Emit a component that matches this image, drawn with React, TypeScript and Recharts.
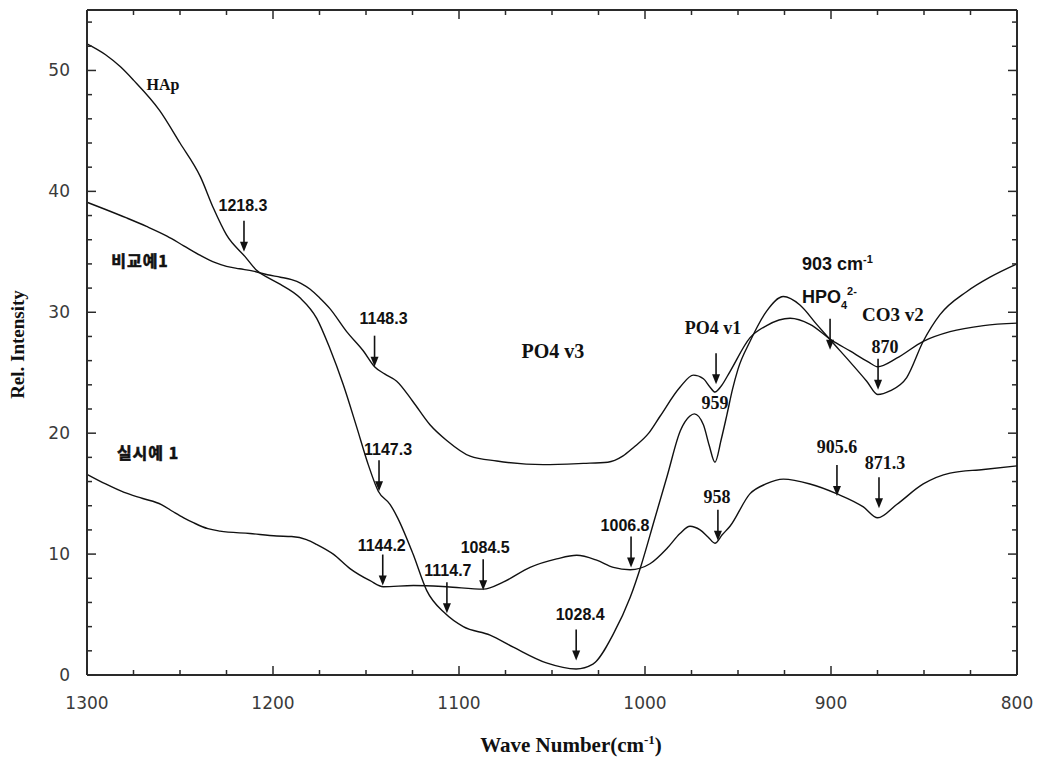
import { LineChart, Line, XAxis, YAxis, ReferenceDot, ReferenceLine } from 'recharts'

// [wavenumber cm-1, rel. intensity]
const hap: [number, number][] = [
  [1300, 52.2], [1290, 51.3], [1282, 50.3], [1275, 49.2], [1261, 46.7], [1250, 44.0], [1239, 41.2],
  [1232, 38.6], [1225, 36.4], [1215, 34.6], [1209, 33.5], [1202, 32.8], [1196, 32.3], [1185.5, 31.2], [1176.5, 29.5],
  [1169.4, 27.0], [1162.2, 24.0], [1155, 20.5], [1148.8, 17.4], [1143.4, 15.2], [1137, 14.1], [1133, 13.0],
  [1124.7, 10.0], [1117.4, 7.0], [1107.5, 5.1], [1097.7, 4.0], [1083.3, 3.3], [1070.8, 2.3], [1053, 1.0],
  [1037, 0.5], [1028, 0.9], [1017, 3.4], [1008, 6.4], [1002, 9.1], [995, 12.8], [988, 16.5], [981, 20.2],
  [976, 21.4], [973.5, 21.6], [968.6, 20.7], [965.5, 19.0], [962.4, 17.6], [959, 19.5], [956, 21.5],
  [953, 23.6], [950, 25.3], [943.5, 27.6], [934.6, 30.1], [925.6, 31.3], [916.7, 30.6], [907.7, 29.0],
  [899.7, 27.6], [889.8, 25.9], [880.8, 24.3], [874.9, 23.2], [868.3, 23.5], [859.3, 24.6], [850.4, 27.6],
  [841.4, 29.8], [827.1, 31.7], [814.5, 32.9], [800, 34.0],
]

const comparative: [number, number][] = [
  [1300, 39.1], [1290, 38.5], [1278.7, 37.8], [1268, 37.1], [1257, 36.3], [1248, 35.5], [1239, 34.7],
  [1231, 34.1], [1225, 33.8], [1218, 33.6], [1210.6, 33.4], [1203, 33.1], [1196, 32.9], [1190, 32.7], [1185, 32.4],
  [1180, 31.9], [1175, 31.2], [1169.4, 30.3], [1160.4, 28.4], [1151.4, 26.8], [1145.4, 25.5], [1140, 24.9],
  [1133.5, 24.3], [1124.7, 22.6], [1115.6, 20.7], [1106.6, 19.4], [1094, 18.1], [1079.7, 17.7], [1054.7, 17.4],
  [1033.2, 17.5], [1020, 17.6], [1012, 18.1], [1006.3, 18.8], [998, 20.0], [991.9, 21.4], [981.2, 23.8],
  [974, 24.8], [968.6, 24.5], [965, 23.8], [962.4, 23.4], [959, 23.9], [954.3, 25.1], [943.5, 27.9],
  [934.6, 28.9], [922, 29.5], [911.3, 29.0], [899.7, 27.7], [889.8, 26.8], [880, 25.9], [874.9, 25.5],
  [864.7, 26.2], [850.4, 27.6], [836, 28.4], [818, 28.9], [800, 29.1],
]

const example: [number, number][] = [
  [1300, 16.6], [1290, 15.8], [1280, 15.1], [1270, 14.6], [1260, 14.1], [1253.6, 13.5], [1248, 13.0], [1242.8, 12.6],
  [1235, 12.1], [1228.5, 11.9], [1212.4, 11.7], [1198, 11.5], [1190, 11.45], [1182, 11.2], [1176.5, 10.8],
  [1167.6, 10.0], [1158.6, 8.8], [1147.8, 7.8], [1140.7, 7.3], [1124.5, 7.4], [1106.6, 7.3], [1086.9, 7.1],
  [1076, 7.7], [1061.8, 8.9], [1047.5, 9.6], [1036.7, 9.9], [1026, 9.5], [1017, 8.9], [1008, 8.7], [997.3, 9.2],
  [988, 10.5], [981.2, 11.7], [975.8, 12.3], [970.4, 12.0], [966, 11.4], [962.4, 10.9], [958.5, 11.6],
  [954.3, 12.3], [943.5, 15.0], [935, 15.8], [925.6, 16.2], [911.3, 15.8], [897, 15.0], [882.6, 13.9],
  [874.9, 13.0], [864.7, 14.1], [850.4, 15.8], [836, 16.7], [818, 17.0], [800, 17.3],
]

const xTicks = [1300, 1275, 1250, 1225, 1200, 1175, 1150, 1125, 1100, 1075, 1050, 1025, 1000, 975, 950, 925, 900, 875, 850, 825, 800]
const yTicks = [0, 2, 4, 6, 8, 10, 12, 14, 16, 18, 20, 22, 24, 26, 28, 30, 32, 34, 36, 38, 40, 42, 44, 46, 48, 50, 52, 54]
const X_MIN = 800
const X_MAX = 1300
const Y_MAX = 55

// peak markers: arrow tip at [wn, value]
const arrows = [
  { text: '1218.3', wn: 1215.6, v: 35.0, dx: -1, gap: 10 },
  { text: '1148.3', wn: 1145.4, v: 25.5, dx: 9, gap: 12 },
  { text: '1147.3', wn: 1143, v: 15.2, dx: 9, gap: 5 },
  { text: '1144.2', wn: 1141, v: 7.4, dx: -1, gap: 4 },
  { text: '1114.7', wn: 1106.5, v: 5.1, dx: 1, gap: 6 },
  { text: '1084.5', wn: 1087, v: 7.0, dx: 2, gap: 6 },
  { text: '1028.4', wn: 1037, v: 1.2, dx: 4, gap: 9 },
  { text: '1006.8', wn: 1007.5, v: 8.9, dx: -6, gap: 5 },
  { text: 'PO4 v1', wn: 961.8, v: 24.05, dx: -3, gap: 19, serif: true },
  { text: '958', wn: 960.8, v: 11.1, dx: -1, gap: 7, serif: true },
  { text: '', wn: 900.5, v: 26.9, dx: 0, gap: 0 },
  { text: '870', wn: 874.7, v: 23.6, dx: 7, gap: 6, serif: true },
  { text: '905.6', wn: 896.8, v: 14.8, dx: 0, gap: 12, serif: true },
  { text: '871.3', wn: 874.2, v: 13.8, dx: 6, gap: 8, serif: true },
]

// free labels, centred on [wn, value]
const notes = [
  { text: 'HAp', wn: 1259.1, v: 48.85, font: 'serif', size: 16 },
  { text: '비교예1', wn: 1271.5, v: 34.2, font: 'kr', size: 16 },
  { text: '실시예 1', wn: 1267.2, v: 18.3, font: 'kr', size: 16 },
  { text: 'PO4 v3', wn: 1049.5, v: 26.8, font: 'serif', size: 20 },
  { text: '959', wn: 962.4, v: 22.5, font: 'serif', size: 18 },
  { text: 'CO3 v2', wn: 866.7, v: 29.8, font: 'serif', size: 19 },
]

const AXIS = '#2a2a2a'
const SERIF = '"Liberation Serif", "Times New Roman", serif'
const SANS = '"Liberation Sans", Arial, sans-serif'
const KR = '"Noto Sans CJK KR", sans-serif'
const TICKFONT = '"DejaVu Sans", sans-serif'

const rows = (pts: [number, number][]) => pts.map(([wn, v]) => ({ wn, v }))

function BottomLabel({ x, y, payload }: any) {
  if (payload.value % 100 !== 0) return null
  return (
    <text x={x} y={y + 34} textAnchor="middle" fontFamily={TICKFONT} fontSize={17} fill="#3a3a3a">
      {payload.value}
    </text>
  )
}

function LeftLabel({ x, y, payload }: any) {
  if (payload.value % 10 !== 0) return null
  return (
    <text x={x - 17} y={y + 6} textAnchor="end" fontFamily={TICKFONT} fontSize={17} fill="#3a3a3a">
      {payload.value}
    </text>
  )
}

// inward tick marks on all four sides of the frame
const tickMark = (dx: number, dy: number) => ({ cx, cy }: any) => (
  <path d={`M${cx},${cy}l${dx},${dy}`} stroke={AXIS} strokeWidth={1.5} />
)

function XTitle({ viewBox }: any) {
  const cx = viewBox.x + viewBox.width / 2 + 19
  return (
    <text x={cx} y={viewBox.y + 77} textAnchor="middle" fontFamily={SERIF} fontWeight="bold" fontSize={21} fill="#111">
      Wave Number(cm<tspan dy={-8} fontSize={13}>-1</tspan><tspan dy={8}>)</tspan>
    </text>
  )
}

function YTitle({ viewBox }: any) {
  const cx = viewBox.x - 10
  const cy = viewBox.y + viewBox.height / 2 + 2
  return (
    <text x={cx} y={cy} transform={`rotate(-90 ${cx} ${cy})`} dy="0.35em" textAnchor="middle" fontFamily={SERIF} fontWeight="bold" fontSize={19} fill="#111">
      Rel. Intensity
    </text>
  )
}

function arrowShape(a: (typeof arrows)[number]) {
  return ({ cx, cy }: any) => {
    const top = cy - 31
    return (
      <g>
        <line x1={cx} y1={top} x2={cx} y2={cy - 8} stroke="#111" strokeWidth={1.6} />
        <path d={`M${cx - 4},${cy - 10} L${cx + 4},${cy - 10} L${cx},${cy} Z`} fill="#111" />
        {a.text && (
          <text
            x={cx + a.dx}
            y={top - a.gap}
            textAnchor="middle"
            fontFamily={a.serif ? SERIF : SANS}
            fontWeight="bold"
            fontSize={a.serif ? 18 : 16}
            fill="#111"
          >
            {a.text}
          </text>
        )}
      </g>
    )
  }
}

function noteShape(n: (typeof notes)[number]) {
  const kr = n.font === 'kr'
  return ({ cx, cy }: any) => (
    <text
      x={cx}
      y={cy}
      dy="0.35em"
      textAnchor="middle"
      fontFamily={kr ? KR : SERIF}
      fontWeight="bold"
      fontSize={n.size}
      fill="#111"
      stroke={kr ? '#111' : undefined}
      strokeWidth={kr ? 0.6 : undefined}
      letterSpacing={kr ? 1 : undefined}
    >
      {n.text}
    </text>
  )
}

// 903 cm-1 / HPO4 2- heading over the shoulder
function hpoShape({ cx, cy }: any) {
  return (
    <g fontFamily={SANS} fontWeight="bold" fill="#111">
      <text x={cx} y={cy - 27} fontSize={18}>
        903 cm<tspan dy={-7} fontSize={11}>-1</tspan>
      </text>
      <text x={cx} y={cy + 6} fontSize={18}>
        HPO<tspan dy={6} fontSize={11}>4</tspan><tspan dy={-14} fontSize={11}>2-</tspan>
      </text>
    </g>
  )
}

const frame = { stroke: AXIS, strokeWidth: 2 }

export default function App() {
  return (
    <div style={{ position: 'absolute', left: 0, top: 0, background: '#fff' }}>
      <LineChart width={1037} height={760} margin={{ top: 10, right: 20, bottom: 25, left: 27 }}>
        <XAxis
          dataKey="wn"
          type="number"
          domain={[X_MIN, X_MAX]}
          reversed
          ticks={xTicks}
          interval={0}
          tickSize={0}
          tickMargin={0}
          tickLine={false}
          tick={<BottomLabel />}
          height={60}
          axisLine={frame}
          label={<XTitle />}
        />
        <YAxis
          type="number"
          domain={[0, Y_MAX]}
          ticks={yTicks}
          interval={0}
          tickSize={0}
          tickMargin={0}
          tickLine={false}
          tick={<LeftLabel />}
          width={60}
          axisLine={frame}
          label={<YTitle />}
        />
        <ReferenceLine y={Y_MAX} stroke={AXIS} strokeWidth={2} />
        <ReferenceLine x={X_MIN} stroke={AXIS} strokeWidth={2} />
        {xTicks.map((t) => {
          const len = t % 100 === 0 ? 9 : 5
          return [
            <ReferenceDot key={`xb${t}`} x={t} y={0} r={0} shape={tickMark(0, -len)} />,
            <ReferenceDot key={`xt${t}`} x={t} y={Y_MAX} r={0} shape={tickMark(0, len)} />,
          ]
        })}
        {yTicks.map((t) => {
          const len = t % 10 === 0 ? 9 : 5
          return [
            <ReferenceDot key={`yl${t}`} x={X_MAX} y={t} r={0} shape={tickMark(len, 0)} />,
            <ReferenceDot key={`yr${t}`} x={X_MIN} y={t} r={0} shape={tickMark(-len, 0)} />,
          ]
        })}
        <Line data={rows(hap)} dataKey="v" type="monotone" stroke="#111" strokeWidth={1.4} dot={false} isAnimationActive={false} />
        <Line data={rows(comparative)} dataKey="v" type="monotone" stroke="#111" strokeWidth={1.4} dot={false} isAnimationActive={false} />
        <Line data={rows(example)} dataKey="v" type="monotone" stroke="#111" strokeWidth={1.4} dot={false} isAnimationActive={false} />
        {arrows.map((a, i) => (
          <ReferenceDot key={`a${i}`} x={a.wn} y={a.v} r={0} shape={arrowShape(a)} />
        ))}
        {notes.map((n, i) => (
          <ReferenceDot key={`n${i}`} x={n.wn} y={n.v} r={0} shape={noteShape(n)} />
        ))}
        <ReferenceDot x={915.6} y={31.3} r={0} shape={hpoShape} />
      </LineChart>
    </div>
  )
}
